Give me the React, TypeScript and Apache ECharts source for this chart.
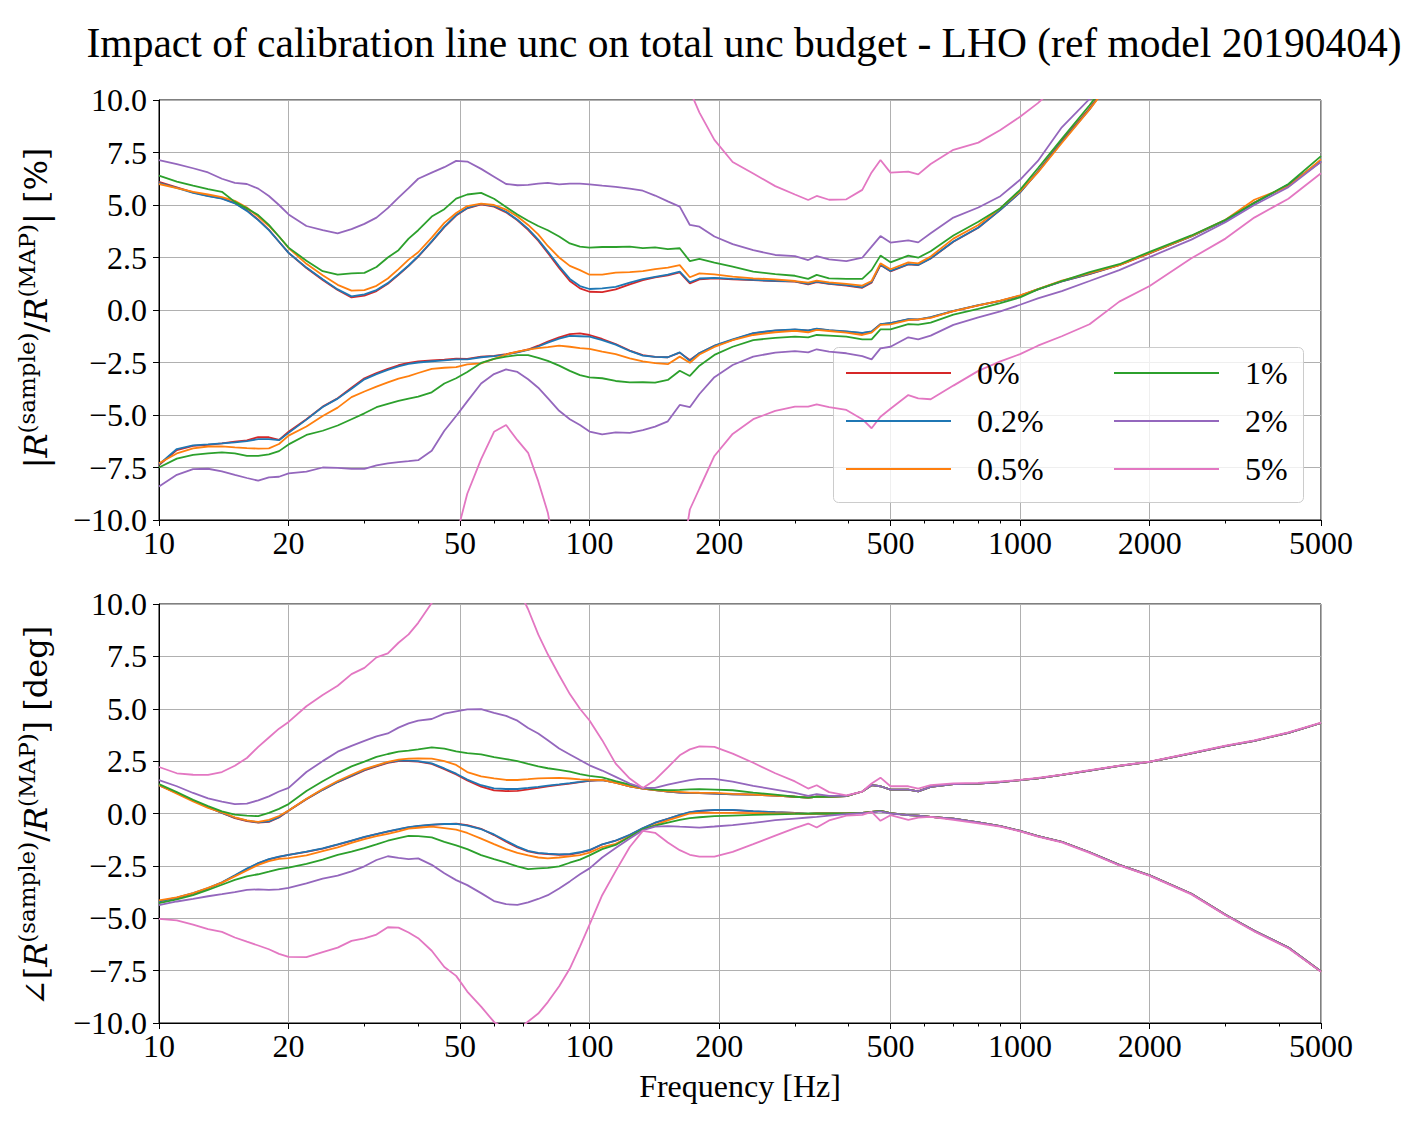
import React, { useEffect, useRef } from "react";
import * as echarts from "echarts";

const N = null;

const FREQ = [
  10, 11, 12, 13, 14, 15, 16, 17, 18, 19, 20,
  22, 24, 26, 28, 30, 32, 34, 36, 38, 40,
  43, 46, 49, 52, 56, 60, 64, 68, 72, 76, 80, 85, 90, 95, 100,
  107, 115, 124, 133, 142, 152, 162, 171, 180, 195, 215, 240, 270, 300, 322, 337, 360, 395, 430, 452, 474, 500,
  550, 580, 620, 700, 800, 900, 1000, 1100, 1250, 1450, 1700, 2000, 2500, 3000, 3500, 4200, 5000,
];

const LEVELS = ["0%", "0.2%", "0.5%", "1%", "2%", "5%"];
const COLORS = ["#d62728", "#1f77b4", "#ff7f0e", "#2ca02c", "#9467bd", "#e377c2"];
const X_MAJOR = [10, 20, 50, 100, 200, 500, 1000, 2000, 5000];
const X_MINOR = [30, 40, 60, 70, 80, 90, 300, 400, 600, 700, 800, 900, 3000, 4000];
const TITLE = "Impact of calibration line unc on total unc budget - LHO (ref model 20190404)";

// ---- magnitude panel, upper bounds [%] ----
const MAG_UP_0 = [
  6.1, 5.84, 5.6, 5.43, 5.32, 5.1, 4.75, 4.3, 3.82, 3.25, 2.72,
  2.0, 1.43, 0.95, 0.6, 0.68, 0.9, 1.25, 1.67, 2.1, 2.54,
  3.25, 3.95, 4.5, 4.84, 5.03, 4.92, 4.65, 4.27, 3.82, 3.3, 2.72, 2.0, 1.38, 1.03, 0.87,
  0.85, 0.98, 1.22, 1.42, 1.55, 1.65, 1.79, 1.27, 1.46, 1.51, 1.46, 1.42, 1.38, 1.35, 1.22, 1.33, 1.24, 1.16, 1.06, 1.3, 2.14, 1.84,
  2.17, 2.14, 2.45, 3.25, 3.92, 4.77, 5.6, 6.6, 8.05, 9.6, 11.5, N, N, N, N, N, N,
];
const MAG_UP_02 = [
  6.05, 5.82, 5.58, 5.42, 5.3, 5.08, 4.72, 4.28, 3.8, 3.25, 2.72,
  2.02, 1.46, 0.98, 0.65, 0.74, 0.95, 1.28, 1.7, 2.12, 2.56,
  3.27, 3.97, 4.52, 4.86, 5.05, 4.95, 4.68, 4.3, 3.86, 3.35, 2.78, 2.08, 1.48, 1.14, 1.0,
  1.03, 1.1, 1.3, 1.47, 1.58, 1.68, 1.83, 1.32, 1.5, 1.53, 1.48, 1.43, 1.39, 1.36, 1.24, 1.35, 1.26, 1.18, 1.08, 1.33, 2.16, 1.86,
  2.18, 2.15, 2.46, 3.26, 3.93, 4.77, 5.6, 6.58, 8.0, 9.55, 11.5, N, N, N, N, N, N,
];
const MAG_UP_05 = [
  6.0, 5.8, 5.62, 5.5, 5.38, 5.2, 4.88, 4.45, 4.0, 3.5, 2.95,
  2.2, 1.65, 1.2, 0.92, 0.95, 1.15, 1.5, 1.95, 2.4, 2.75,
  3.45, 4.15, 4.62, 4.95, 5.07, 5.0, 4.78, 4.45, 4.05, 3.6, 3.05, 2.5, 2.1, 1.9, 1.68,
  1.68, 1.78, 1.8, 1.85, 1.95, 2.02, 2.14, 1.56, 1.74, 1.7, 1.59, 1.51, 1.46, 1.38, 1.3, 1.4, 1.32, 1.24, 1.16, 1.38, 2.22, 1.94,
  2.27, 2.22, 2.55, 3.4, 4.05, 4.85, 5.65, 6.55, 7.95, 9.55, 11.4, N, N, N, N, N, N,
];
const MAG_UP_1 = [
  6.4, 6.11, 5.92, 5.76, 5.63, 5.15, 4.84, 4.52, 4.05, 3.5, 2.97,
  2.35, 1.85, 1.68, 1.74, 1.77, 2.05, 2.5, 2.85, 3.4, 3.8,
  4.45, 4.8, 5.3, 5.5, 5.58, 5.3, 4.9, 4.55, 4.25, 4.0, 3.8, 3.5, 3.17, 3.02, 2.97,
  3.0, 3.0, 3.02, 2.95, 2.98, 2.9, 2.94, 2.33, 2.43, 2.26, 2.06, 1.83, 1.71, 1.63, 1.48, 1.67, 1.51, 1.48, 1.48, 1.9, 2.59, 2.27,
  2.59, 2.49, 2.8, 3.55, 4.2, 4.85, 5.72, 6.75, 8.15, 9.75, 11.6, N, N, N, N, N, N,
];
const MAG_UP_2 = [
  7.14, 6.95, 6.75, 6.55, 6.25, 6.05, 6.0, 5.78, 5.43, 5.0, 4.55,
  4.0, 3.8, 3.65, 3.85, 4.1, 4.4, 4.85, 5.35, 5.8, 6.25,
  6.54, 6.8, 7.1, 7.07, 6.72, 6.35, 6.0, 5.94, 5.96, 6.02, 6.05, 5.98, 6.02, 6.02, 5.98,
  5.92, 5.86, 5.78, 5.68, 5.45, 5.17, 4.92, 4.05, 3.97, 3.5, 3.14, 2.85, 2.62, 2.57, 2.38, 2.57, 2.41, 2.33, 2.49, 3.02, 3.52, 3.21,
  3.32, 3.22, 3.65, 4.4, 4.88, 5.42, 6.2, 7.1, 8.7, 10.05, 11.8, N, N, N, N, N, N,
];
const MAG_UP_5 = [
  N, N, N, N, N, N, N, N, N, N, N,
  N, N, N, N, N, N, N, N, N, N,
  N, N, N, N, N, N, N, N, N, N, N, N, N, N, N,
  N, N, N, N, N, N, 11.8, 10.45, 9.4, 8.1, 7.05, 6.5, 5.9, 5.5, 5.24, 5.43, 5.25, 5.27, 5.72, 6.55, 7.14, 6.54,
  6.59, 6.46, 6.95, 7.63, 7.97, 8.57, 9.2, 9.85, 10.9, N, N, N, N, N, N, N, N,
];

// ---- magnitude panel, lower bounds [%] ----
const MAG_LO_0 = [
  -7.38, -6.67, -6.47, -6.42, -6.35, -6.27, -6.21, -6.05, -6.06, -6.19, -5.8,
  -5.2, -4.6, -4.2, -3.7, -3.25, -3.0, -2.8, -2.63, -2.52, -2.45,
  -2.4, -2.37, -2.32, -2.33, -2.22, -2.18, -2.1, -2.0, -1.88, -1.7, -1.5, -1.3, -1.15, -1.11, -1.19,
  -1.38, -1.62, -1.93, -2.15, -2.23, -2.25, -2.03, -2.38, -2.06, -1.71, -1.42, -1.11, -0.98, -0.93, -0.98, -0.9, -0.97, -1.03, -1.1, -1.03, -0.68, -0.63,
  -0.45, -0.46, -0.35, -0.05, 0.22, 0.43, 0.67, 0.98, 1.36, 1.71, 2.14, 2.7, 3.52, 4.27, 5.12, 5.95, 7.06,
];
const MAG_LO_02 = [
  -7.35, -6.62, -6.45, -6.4, -6.35, -6.3, -6.24, -6.15, -6.15, -6.2, -5.85,
  -5.22, -4.62, -4.22, -3.75, -3.3, -3.05, -2.85, -2.68, -2.57, -2.5,
  -2.44, -2.4, -2.35, -2.35, -2.25, -2.2, -2.12, -2.02, -1.9, -1.74, -1.55, -1.36, -1.23, -1.25, -1.27,
  -1.43, -1.65, -1.95, -2.17, -2.23, -2.25, -2.02, -2.42, -2.05, -1.7, -1.4, -1.1, -0.97, -0.92, -0.97, -0.89, -0.96, -1.02, -1.09, -1.02, -0.67, -0.62,
  -0.44, -0.45, -0.34, -0.04, 0.23, 0.44, 0.68, 0.98, 1.36, 1.72, 2.15, 2.72, 3.5, 4.25, 5.08, 5.98, 7.1,
];
const MAG_LO_05 = [
  -7.3, -6.83, -6.59, -6.5, -6.49, -6.54, -6.58, -6.6, -6.59, -6.38, -5.98,
  -5.55, -5.05, -4.65, -4.15, -3.88, -3.65, -3.45, -3.27, -3.15, -3.0,
  -2.8, -2.75, -2.72, -2.59, -2.54, -2.33, -2.12, -1.98, -1.89, -1.82, -1.77, -1.7, -1.75, -1.82, -1.85,
  -1.98, -2.1, -2.3, -2.45, -2.53, -2.58, -2.22, -2.51, -2.12, -1.76, -1.44, -1.19, -1.06, -0.99, -1.06, -0.95, -1.0, -1.08, -1.19, -1.08, -0.71, -0.68,
  -0.48, -0.45, -0.38, -0.05, 0.22, 0.45, 0.7, 1.0, 1.4, 1.75, 2.14, 2.72, 3.52, 4.3, 5.25, 5.88, 7.17,
];
const MAG_LO_1 = [
  -7.5, -7.08, -6.9, -6.83, -6.78, -6.83, -6.95, -6.95, -6.87, -6.72, -6.4,
  -5.95, -5.75, -5.5, -5.2, -4.92, -4.63, -4.47, -4.33, -4.22, -4.13,
  -3.92, -3.5, -3.25, -2.95, -2.52, -2.33, -2.22, -2.15, -2.15, -2.28, -2.42, -2.65, -2.9, -3.1, -3.21,
  -3.25, -3.38, -3.45, -3.44, -3.46, -3.33, -2.89, -3.14, -2.65, -2.14, -1.75, -1.43, -1.33, -1.27, -1.3, -1.19, -1.22, -1.27, -1.4, -1.4, -0.92, -0.92,
  -0.67, -0.7, -0.6, -0.22, 0.05, 0.33, 0.6, 0.98, 1.38, 1.8, 2.18, 2.77, 3.55, 4.3, 5.1, 6.0, 7.33,
];
const MAG_LO_2 = [
  -8.4, -7.85, -7.58, -7.56, -7.68, -7.85, -8.0, -8.13, -7.97, -7.94, -7.78,
  -7.7, -7.5, -7.52, -7.57, -7.57, -7.4, -7.3, -7.24, -7.2, -7.15,
  -6.7, -5.75, -5.05, -4.35, -3.5, -3.05, -2.83, -2.95, -3.3, -3.7, -4.2, -4.8, -5.2, -5.48, -5.79,
  -5.92, -5.83, -5.85, -5.72, -5.55, -5.3, -4.52, -4.63, -4.0, -3.2, -2.62, -2.22, -2.03, -1.96, -2.02, -1.87, -1.98, -2.06, -2.2, -2.35, -1.83, -1.75,
  -1.3, -1.4, -1.22, -0.71, -0.35, -0.07, 0.25, 0.55, 0.9, 1.38, 1.9, 2.52, 3.35, 4.18, 5.0, 5.85, 7.06,
];
const MAG_LO_5 = [
  N, N, N, N, N, N, N, N, N, N, N,
  N, N, N, N, N, N, N, N, N, N,
  N, -12.5, -10.8, -8.75, -7.1, -5.8, -5.48, -6.2, -6.8, -8.15, -9.65, -12.5, N, N, N,
  N, N, N, N, N, N, -12.5, -9.5, -8.5, -6.95, -5.9, -5.2, -4.8, -4.6, -4.6, -4.49, -4.62, -4.76, -5.2, -5.63, -5.08, -4.7,
  -4.05, -4.21, -4.25, -3.6, -2.9, -2.45, -2.1, -1.7, -1.25, -0.68, 0.4, 1.14, 2.46, 3.4, 4.4, 5.3, 6.51,
];

// ---- phase panel, upper bounds [deg] ----
const PHA_UP_0 = [
  1.35, 0.98, 0.62, 0.3, 0.03, -0.22, -0.36, -0.44, -0.4, -0.19, 0.13,
  0.68, 1.13, 1.5, 1.78, 2.06, 2.25, 2.42, 2.5, 2.5, 2.48,
  2.37, 2.12, 1.86, 1.58, 1.28, 1.1, 1.07, 1.08, 1.15, 1.22, 1.3, 1.37, 1.43, 1.5, 1.56,
  1.59, 1.47, 1.3, 1.19, 1.12, 1.05, 1.0, 0.98, 0.97, 0.95, 0.92, 0.9, 0.85, 0.8, 0.76, 0.8, 0.8, 0.83, 1.05, 1.35, 1.3, 1.14,
  1.14, 1.06, 1.27, 1.4, 1.43, 1.5, 1.59, 1.68, 1.84, 2.05, 2.27, 2.46, 2.87, 3.22, 3.47, 3.85, 4.32,
];
const PHA_UP_02 = [
  1.35, 0.98, 0.62, 0.3, 0.03, -0.2, -0.34, -0.42, -0.38, -0.17, 0.14,
  0.69, 1.14, 1.51, 1.8, 2.08, 2.27, 2.44, 2.52, 2.52, 2.5,
  2.39, 2.15, 1.9, 1.62, 1.35, 1.2, 1.17, 1.17, 1.22, 1.27, 1.33, 1.39, 1.45, 1.51, 1.57,
  1.59, 1.47, 1.3, 1.19, 1.12, 1.05, 1.0, 0.98, 0.97, 0.95, 0.92, 0.9, 0.85, 0.8, 0.76, 0.8, 0.8, 0.83, 1.05, 1.35, 1.3, 1.14,
  1.14, 1.06, 1.27, 1.4, 1.43, 1.5, 1.59, 1.68, 1.84, 2.05, 2.27, 2.46, 2.87, 3.22, 3.47, 3.85, 4.32,
];
const PHA_UP_05 = [
  1.35, 0.95, 0.58, 0.27, 0.05, -0.18, -0.33, -0.4, -0.3, -0.12, 0.14,
  0.7, 1.17, 1.55, 1.85, 2.12, 2.3, 2.46, 2.57, 2.62, 2.63,
  2.62, 2.5, 2.32, 1.98, 1.77, 1.68, 1.6, 1.6, 1.64, 1.68, 1.69, 1.7, 1.67, 1.63, 1.61,
  1.6, 1.46, 1.3, 1.19, 1.12, 1.06, 1.03, 1.0, 0.99, 0.98, 0.94, 0.9, 0.85, 0.8, 0.76, 0.8, 0.8, 0.83, 1.05, 1.35, 1.3, 1.14,
  1.14, 1.06, 1.27, 1.4, 1.43, 1.5, 1.59, 1.68, 1.84, 2.05, 2.27, 2.46, 2.87, 3.22, 3.47, 3.85, 4.32,
];
const PHA_UP_1 = [
  1.4, 1.02, 0.65, 0.35, 0.1, -0.05, -0.1, -0.13, 0.03, 0.22, 0.45,
  1.07, 1.54, 1.93, 2.25, 2.48, 2.7, 2.84, 2.95, 3.0, 3.06,
  3.16, 3.1, 2.97, 2.88, 2.82, 2.69, 2.6, 2.5, 2.37, 2.25, 2.16, 2.08, 2.0, 1.88, 1.8,
  1.72, 1.55, 1.38, 1.22, 1.14, 1.11, 1.13, 1.15, 1.16, 1.14, 1.11, 1.0, 0.9, 0.8, 0.76, 0.8, 0.8, 0.83, 1.05, 1.35, 1.3, 1.14,
  1.14, 1.06, 1.27, 1.4, 1.43, 1.5, 1.59, 1.68, 1.84, 2.05, 2.27, 2.46, 2.87, 3.22, 3.47, 3.85, 4.32,
];
const PHA_UP_2 = [
  1.59, 1.3, 0.98, 0.72, 0.57, 0.45, 0.47, 0.63, 0.82, 1.05, 1.22,
  1.98, 2.5, 2.95, 3.23, 3.47, 3.68, 3.82, 4.1, 4.3, 4.43,
  4.51, 4.77, 4.88, 4.97, 4.98, 4.8, 4.66, 4.43, 4.08, 3.82, 3.5, 3.1, 2.82, 2.55, 2.3,
  2.05, 1.75, 1.43, 1.22, 1.22, 1.38, 1.5, 1.59, 1.65, 1.65, 1.52, 1.32, 1.14, 0.98, 0.84, 0.92, 0.84, 0.84, 1.05, 1.35, 1.3, 1.14,
  1.14, 1.06, 1.27, 1.4, 1.43, 1.5, 1.59, 1.68, 1.84, 2.05, 2.27, 2.46, 2.87, 3.22, 3.47, 3.85, 4.32,
];
const PHA_UP_5 = [
  2.22, 1.92, 1.85, 1.84, 1.98, 2.28, 2.65, 3.18, 3.63, 4.05, 4.37,
  5.12, 5.66, 6.1, 6.65, 6.95, 7.45, 7.64, 8.15, 8.55, 9.1,
  10.05, 11.0, 11.8, 12.3, 12.5, 12.2, 11.6, 10.8, 9.75, 8.55, 7.6, 6.6, 5.7, 5.0, 4.44,
  3.5, 2.38, 1.67, 1.22, 1.6, 2.2, 2.78, 3.06, 3.2, 3.18, 2.86, 2.42, 1.92, 1.53, 1.19, 1.35, 1.02, 0.87, 1.05, 1.43, 1.71, 1.3,
  1.3, 1.19, 1.35, 1.44, 1.46, 1.53, 1.6, 1.7, 1.86, 2.07, 2.29, 2.48, 2.89, 3.24, 3.49, 3.87, 4.34,
];

// ---- phase panel, lower bounds [deg] ----
const PHA_LO_0 = [
  -4.2, -4.03, -3.82, -3.58, -3.3, -2.97, -2.65, -2.38, -2.19, -2.07, -1.98,
  -1.83, -1.68, -1.49, -1.31, -1.13, -0.99, -0.86, -0.76, -0.66, -0.6,
  -0.54, -0.51, -0.48, -0.56, -0.73, -1.03, -1.35, -1.62, -1.81, -1.9, -1.94, -1.97, -1.96, -1.87, -1.76,
  -1.48, -1.3, -1.03, -0.71, -0.45, -0.26, -0.08, 0.05, 0.12, 0.16, 0.16, 0.1, 0.06, 0.03, -0.02, 0.0, 0.0, 0.0, 0.03, 0.08, 0.13, 0.02,
  -0.08, -0.1, -0.16, -0.25, -0.42, -0.6, -0.83, -1.08, -1.35, -1.85, -2.45, -2.95, -3.83, -4.83, -5.6, -6.4, -7.54,
];
const PHA_LO_02 = [
  -4.2, -4.02, -3.8, -3.56, -3.28, -2.95, -2.63, -2.37, -2.18, -2.06, -1.97,
  -1.82, -1.66, -1.47, -1.29, -1.12, -0.98, -0.85, -0.75, -0.65, -0.59,
  -0.53, -0.5, -0.5, -0.58, -0.75, -1.0, -1.3, -1.58, -1.78, -1.88, -1.92, -1.95, -1.93, -1.85, -1.74,
  -1.47, -1.29, -1.02, -0.7, -0.44, -0.25, -0.07, 0.06, 0.13, 0.17, 0.17, 0.11, 0.06, 0.03, -0.02, 0.0, 0.0, 0.0, 0.03, 0.08, 0.13, 0.02,
  -0.08, -0.1, -0.16, -0.25, -0.42, -0.6, -0.83, -1.08, -1.35, -1.85, -2.45, -2.95, -3.83, -4.83, -5.6, -6.4, -7.54,
];
const PHA_LO_05 = [
  -4.15, -4.0, -3.8, -3.55, -3.3, -3.0, -2.72, -2.45, -2.27, -2.17, -2.13,
  -2.0, -1.8, -1.62, -1.4, -1.22, -1.08, -0.97, -0.85, -0.72, -0.68,
  -0.63, -0.7, -0.77, -0.93, -1.2, -1.46, -1.7, -1.88, -2.0, -2.1, -2.14, -2.1, -2.05, -1.99, -1.87,
  -1.6, -1.45, -1.1, -0.78, -0.55, -0.33, -0.15, 0.0, 0.03, 0.03, 0.03, 0.02, 0.01, 0.0, -0.02, 0.0, 0.0, 0.0, 0.03, 0.08, 0.13, 0.02,
  -0.08, -0.1, -0.16, -0.25, -0.42, -0.6, -0.83, -1.08, -1.35, -1.85, -2.45, -2.95, -3.83, -4.83, -5.6, -6.4, -7.54,
];
const PHA_LO_1 = [
  -4.28, -4.1, -3.9, -3.65, -3.4, -3.17, -3.0, -2.9, -2.78, -2.65, -2.58,
  -2.4, -2.2, -1.98, -1.82, -1.65, -1.47, -1.3, -1.17, -1.07, -1.08,
  -1.14, -1.35, -1.52, -1.7, -1.99, -2.18, -2.35, -2.52, -2.66, -2.62, -2.6, -2.52, -2.35, -2.2, -2.0,
  -1.7, -1.5, -1.11, -0.75, -0.58, -0.43, -0.3, -0.22, -0.18, -0.13, -0.1, -0.07, -0.04, -0.02, 0.0, 0.0, 0.0, 0.0, 0.03, 0.08, 0.13, 0.02,
  -0.08, -0.1, -0.16, -0.25, -0.42, -0.6, -0.83, -1.08, -1.35, -1.85, -2.45, -2.95, -3.83, -4.83, -5.6, -6.4, -7.54,
];
const PHA_LO_2 = [
  -4.37, -4.2, -4.08, -3.95, -3.85, -3.75, -3.65, -3.62, -3.65, -3.62, -3.55,
  -3.33, -3.11, -2.97, -2.76, -2.52, -2.22, -2.04, -2.12, -2.18, -2.14,
  -2.45, -2.85, -3.18, -3.42, -3.8, -4.18, -4.33, -4.36, -4.24, -4.08, -3.9, -3.58, -3.24, -2.9, -2.62,
  -2.1, -1.65, -1.19, -0.8, -0.63, -0.6, -0.63, -0.65, -0.67, -0.62, -0.55, -0.45, -0.32, -0.24, -0.19, -0.16, -0.1, -0.03, 0.02, 0.05, 0.1, 0.0,
  -0.08, -0.1, -0.16, -0.25, -0.42, -0.6, -0.83, -1.08, -1.35, -1.85, -2.45, -2.95, -3.83, -4.83, -5.6, -6.4, -7.54,
];
const PHA_LO_5 = [
  -5.03, -5.1, -5.3, -5.52, -5.65, -5.92, -6.12, -6.3, -6.48, -6.7, -6.84,
  -6.86, -6.62, -6.4, -6.08, -5.96, -5.78, -5.43, -5.45, -5.68, -5.95,
  -6.55, -7.33, -7.75, -8.5, -9.22, -9.95, -10.3, -10.35, -9.93, -9.55, -9.0, -8.25, -7.4, -6.35, -5.3,
  -3.9, -2.75, -1.6, -0.83, -0.92, -1.38, -1.75, -1.97, -2.06, -2.06, -1.83, -1.46, -1.06, -0.7, -0.48, -0.67, -0.33, -0.1, -0.07, 0.08, -0.35, -0.08,
  -0.3, -0.2, -0.16, -0.3, -0.47, -0.63, -0.85, -1.1, -1.38, -1.88, -2.48, -2.98, -3.86, -4.86, -5.63, -6.43, -7.56,
];

const MAG_UPPER = [MAG_UP_0, MAG_UP_02, MAG_UP_05, MAG_UP_1, MAG_UP_2, MAG_UP_5];
const MAG_LOWER = [MAG_LO_0, MAG_LO_02, MAG_LO_05, MAG_LO_1, MAG_LO_2, MAG_LO_5];
const PHA_UPPER = [PHA_UP_0, PHA_UP_02, PHA_UP_05, PHA_UP_1, PHA_UP_2, PHA_UP_5];
const PHA_LOWER = [PHA_LO_0, PHA_LO_02, PHA_LO_05, PHA_LO_1, PHA_LO_2, PHA_LO_5];

const SERIF = "'Liberation Serif', 'DejaVu Serif', serif";
const LABEL_SERIF = "'DejaVu Serif', 'Liberation Serif', serif";
const LOG = (v: number) => Math.log10(v);

export default function App() {
  const ref = useRef<HTMLDivElement>(null);

  useEffect(() => {
    document.body.style.margin = "0";
    const chart = echarts.init(ref.current as HTMLDivElement, undefined, { renderer: "svg" });

    const grids = [
      { left: 159, top: 100, width: 1162, height: 420 },
      { left: 159, top: 604, width: 1162, height: 419 },
    ];

    const black = { color: "#000", width: 1 };
    const tickFont = { fontSize: 32, fontFamily: SERIF, color: "#000" };

    const xAxis: any[] = [];
    const yAxis: any[] = [];
    grids.forEach((_, gi) => {
      xAxis.push({
        type: "value",
        gridIndex: gi,
        position: "bottom",
        min: 1,
        max: LOG(5000),
        axisLine: { show: true, onZero: false, lineStyle: black },
        axisTick: { show: true, customValues: X_MAJOR.map(LOG), length: 6, lineStyle: black },
        axisLabel: {
          show: true,
          customValues: X_MAJOR.map(LOG),
          formatter: (v: number) => String(Math.round(Math.pow(10, v))),
          margin: 7,
          ...tickFont,
        },
        splitLine: { show: true, lineStyle: { color: "#b0b0b0", width: 1 } },
        name: gi === 1 ? "Frequency [Hz]" : "",
        nameLocation: "middle",
        nameGap: 47,
        nameTextStyle: { fontSize: 32, fontFamily: SERIF, color: "#000" },
      });
      xAxis.push({
        type: "value",
        gridIndex: gi,
        position: "bottom",
        min: 1,
        max: LOG(5000),
        axisLine: { show: false, onZero: false },
        axisTick: { show: true, customValues: X_MINOR.map(LOG), length: 3.5, lineStyle: black },
        axisLabel: { show: false },
        splitLine: { show: false },
      });
      yAxis.push({
        type: "value",
        gridIndex: gi,
        min: -10,
        max: 10,
        interval: 2.5,
        axisLine: { show: true, onZero: false, lineStyle: black },
        axisTick: { show: true, length: 6, lineStyle: black },
        axisLabel: {
          margin: 12,
          formatter: (v: number) => (v < 0 ? "\u2212" : "") + Math.abs(v).toFixed(1),
          ...tickFont,
        },
        splitLine: { show: true, lineStyle: { color: "#b0b0b0", width: 1 } },
      });
    });

    const series: any[] = [];
    const addPanel = (uppers: (number | null)[][], lowers: (number | null)[][], xi: number, yi: number) => {
      LEVELS.forEach((name, i) => {
        [uppers[i], lowers[i]].forEach((vals) => {
          series.push({
            type: "line",
            name,
            xAxisIndex: xi,
            yAxisIndex: yi,
            data: FREQ.map((f, k) => [LOG(f), vals[k] == null ? null : vals[k]]),
            showSymbol: false,
            symbol: "none",
            clip: true,
            silent: true,
            lineStyle: { color: COLORS[i], width: 1.8 },
            itemStyle: { color: COLORS[i] },
            emphasis: { disabled: true },
          });
        });
      });
    };
    addPanel(MAG_UPPER, MAG_LOWER, 0, 0);
    addPanel(PHA_UPPER, PHA_LOWER, 2, 1);

    const legendCommon = {
      orient: "vertical",
      top: 357,
      padding: 0,
      itemGap: 16,
      itemWidth: 105,
      itemHeight: 2,
      icon: "rect",
      selectedMode: false,
      textStyle: { fontSize: 32, fontFamily: SERIF, color: "#000", padding: [0, 0, 0, 21] },
    };

    const richLabel = {
      i: { fontStyle: "italic", fontSize: 32, fontFamily: LABEL_SERIF, lineHeight: 42, fill: "#000" },
      s: { fontSize: 23, fontFamily: LABEL_SERIF, verticalAlign: "top", lineHeight: 23, fill: "#000" },
    };

    const yLabel = (text: string, y: number) => ({
      type: "text",
      x: 36,
      y,
      rotation: Math.PI / 2,
      style: {
        text,
        fontSize: 32,
        fontFamily: LABEL_SERIF,
        lineHeight: 42,
        fill: "#000",
        align: "center",
        verticalAlign: "middle",
        rich: richLabel,
      },
    });

    chart.setOption({
      animation: false,
      backgroundColor: "#ffffff",
      textStyle: { fontFamily: SERIF },
      title: {
        text: TITLE,
        left: 739,
        top: 17,
        textAlign: "center",
        textStyle: { fontSize: 41.5, fontWeight: "normal", fontFamily: SERIF, color: "#000" },
      },
      grid: grids.map((g) => ({ ...g, show: true, borderColor: "#000", borderWidth: 1, backgroundColor: "transparent" })),
      xAxis,
      yAxis,
      series,
      legend: [
        { ...legendCommon, left: 846, data: LEVELS.slice(0, 3) },
        { ...legendCommon, left: 1114, data: LEVELS.slice(3) },
      ],
      graphic: [
        {
          type: "rect",
          z: 3,
          shape: { x: 833.5, y: 347.5, width: 470, height: 155, r: 5 },
          style: { fill: "rgba(255,255,255,0.8)", stroke: "#cccccc", lineWidth: 1 },
        },
        yLabel("|{i|R}{s|(sample)}/{i|R}{s|(MAP)}| [%]", 308),
        yLabel("\u2220[{i|R}{s|(sample)}/{i|R}{s|(MAP)}] [deg]", 816),
      ],
    });

    return () => {
      chart.dispose();
    };
  }, []);

  return <div ref={ref} style={{ width: 1418, height: 1125 }} />;
}
